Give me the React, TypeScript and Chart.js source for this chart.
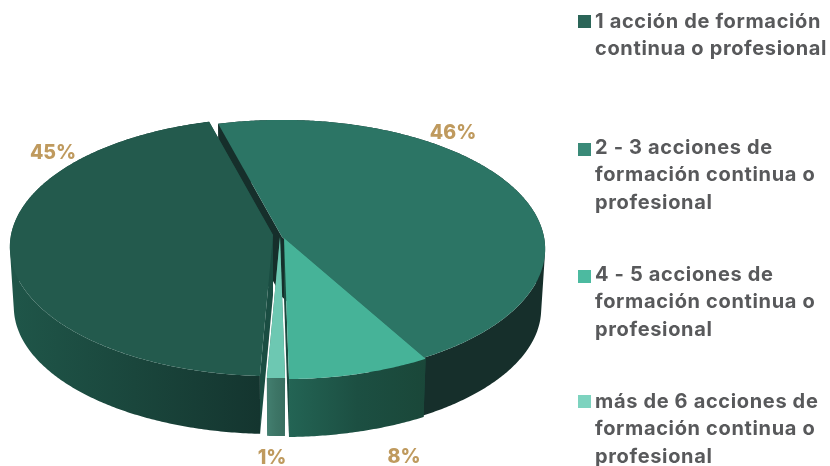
import React, { useEffect, useRef } from "react";
import { Chart, registerables } from "chart.js";

Chart.register(...registerables);

// Data
const categories = [
  ["1 acción de formación", "continua o profesional"],
  ["2 - 3 acciones de", "formación continua o", "profesional"],
  ["4 - 5 acciones de", "formación continua o", "profesional"],
  ["más de 6 acciones de", "formación continua o", "profesional"],
];
const shares = [45, 46, 8, 1];

// Styles
const topColors = ["#235a4d", "#2c7565", "#46b398", "#6dc8b2"];
const swatchColors = ["#2b6558", "#3a8a78", "#4cbaa0", "#7dd3bf"];
const cutColors = ["#1a4d42", "#162f2b", "#1a4a3f", "#3a7666"];
const wallStops = [
  ["#1f5649", "#1a463c", "#14352f"],
  ["#162f2b", "#162f2b", "#162f2b"],
  ["#236454", "#1c4f42", "#1a4739"],
  ["#437f70", "#3d7566", "#386e60"],
];
const labelColor = "#bf9a5e";
const textColor = "#58595b";
const font = "Inter, 'Open Sans', sans-serif";

// Layout
const ORIGIN = { x: 282, y: 237 };
const RX = 262;
const RY = 128;
const PERSPECTIVE = 0.093;
const DEPTH = 60;
const BOTTOM_SCALE = 0.985;
const explode = [
  [-9, -2],
  [0, 0],
  [2, 1],
  [-2, 0],
];
const paintOrder = [1, 2, 0, 3];
const labelAnchors = [
  [53, 153],
  [453, 133],
  [404, 457],
  [272, 458],
];
const legendTops = [8, 134, 261, 388];
const swatchTops = [15, 143, 270, 395];

type Pt = [number, number];

function project(i: number, u: number, v: number, bottom: boolean): Pt {
  const w = 1 - PERSPECTIVE * v;
  const s = bottom ? BOTTOM_SCALE : 1;
  return [
    ORIGIN.x + explode[i][0] + (RX * s * u) / w,
    ORIGIN.y + explode[i][1] + (RY * s * v) / w + (bottom ? DEPTH : 0),
  ];
}

function rim(i: number, a: number, b: number, bottom: boolean): Pt[] {
  const n = Math.max(2, Math.ceil((b - a) / 0.01));
  const out: Pt[] = [];
  for (let k = 0; k <= n; k++) {
    const t = a + ((b - a) * k) / n;
    out.push(project(i, Math.cos(t), Math.sin(t), bottom));
  }
  return out;
}

function fillPoly(ctx: CanvasRenderingContext2D, pts: Pt[], fill: string | CanvasGradient) {
  ctx.beginPath();
  pts.forEach((p, k) => (k ? ctx.lineTo(p[0], p[1]) : ctx.moveTo(p[0], p[1])));
  ctx.closePath();
  ctx.fillStyle = fill;
  ctx.fill();
}

function fillWall(ctx: CanvasRenderingContext2D, top: Pt[], bottom: Pt[], fill: CanvasGradient) {
  ctx.beginPath();
  for (let k = 0; k < top.length - 1; k++) {
    const quad = [top[k], top[k + 1], bottom[k + 1], bottom[k]];
    // keep every small quad wound the same way so the union has no holes
    let area = 0;
    quad.forEach((p, j) => {
      const q = quad[(j + 1) % 4];
      area += p[0] * q[1] - q[0] * p[1];
    });
    const pts = area >= 0 ? quad : [...quad].reverse();
    pts.forEach((p, j) => (j ? ctx.lineTo(p[0], p[1]) : ctx.moveTo(p[0], p[1])));
    ctx.closePath();
  }
  ctx.fillStyle = fill;
  ctx.fill("nonzero");
}

const pie3d = {
  id: "pie3d",
  beforeDatasetsDraw(chart: any) {
    const ctx: CanvasRenderingContext2D = chart.ctx;
    const arcs = chart.getDatasetMeta(0).data;
    paintOrder.forEach((i) => {
      const { startAngle: a, endAngle: b } = arcs[i].getProps(["startAngle", "endAngle"], true);
      const apexTop = project(i, 0, 0, false);
      const apexBottom = project(i, 0, 0, true);
      [a, b].forEach((t: number) => {
        fillPoly(
          ctx,
          [
            project(i, Math.cos(t), Math.sin(t), false),
            apexTop,
            apexBottom,
            project(i, Math.cos(t), Math.sin(t), true),
          ],
          cutColors[i]
        );
      });
      const top = rim(i, a, b, false);
      const bottom = rim(i, a, b, true);
      const xs = top.map((p) => p[0]);
      const g = ctx.createLinearGradient(Math.min(...xs), 0, Math.max(...xs), 0);
      wallStops[i].forEach((c, k) => g.addColorStop(k / 2, c));
      fillWall(ctx, top, bottom, g);
      fillPoly(ctx, [apexTop, ...top], topColors[i]);
    });
    ctx.save();
    ctx.font = `800 19.5px ${font}`;
    ctx.fillStyle = labelColor;
    ctx.textAlign = "center";
    ctx.textBaseline = "middle";
    shares.forEach((v, i) => ctx.fillText(`${v}%`, labelAnchors[i][0], labelAnchors[i][1]));
    ctx.restore();
    return false;
  },
};

export default function App() {
  const ref = useRef<HTMLCanvasElement>(null);
  useEffect(() => {
    const chart = new Chart(ref.current!, {
      type: "pie",
      data: {
        labels: categories as any,
        datasets: [{ data: shares, backgroundColor: topColors, borderWidth: 0 }],
      },
      options: {
        animation: false,
        responsive: false,
        rotation: -177.4,
        plugins: { legend: { display: false }, tooltip: { enabled: false } },
      },
      plugins: [pie3d],
    } as any);
    return () => chart.destroy();
  }, []);
  return (
    <div style={{ position: "fixed", left: 0, top: 0, width: 830, height: 466, overflow: "hidden", background: "#fff" }}>
      <canvas ref={ref} width={830} height={466} style={{ position: "absolute", left: 0, top: 0 }} />
      {categories.map((lines, i) => (
        <React.Fragment key={i}>
          <div
            style={{
              position: "absolute",
              left: 578,
              top: swatchTops[i],
              width: 13,
              height: 13,
              background: swatchColors[i],
            }}
          />
          <div
            style={{
              position: "absolute",
              left: 595,
              top: legendTops[i],
              fontFamily: font,
              fontWeight: 700,
              fontSize: 20,
              lineHeight: "27.4px",
              letterSpacing: 0.65,
              color: textColor,
              whiteSpace: "nowrap",
            }}
          >
            {lines.map((l, k) => (
              <div key={k}>{l}</div>
            ))}
          </div>
        </React.Fragment>
      ))}
    </div>
  );
}
